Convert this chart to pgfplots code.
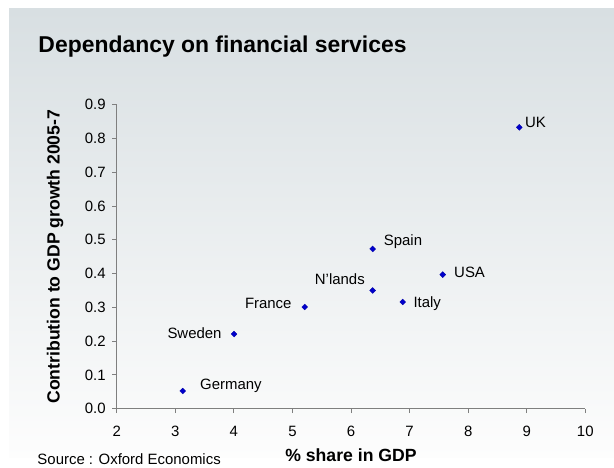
\documentclass[border=0pt]{standalone}
\usepackage{pgfplots}
\pgfplotsset{compat=1.18}
\usepackage{fontspec}
\setmainfont{Liberation Sans}
\definecolor{bgtop}{HTML}{D8DFE2}
\definecolor{bgbot}{HTML}{FDFDFD}
\definecolor{axgray}{HTML}{7F7F7F}
\definecolor{ptblue}{HTML}{0000CC}
\begin{document}
\begin{tikzpicture}[x=1bp,y=1bp]
\useasboundingbox (0,0) rectangle (614,468);
\fill[white] (0,0) rectangle (614,468);
\shade[top color=bgtop, bottom color=bgbot] (9,10) rectangle (614,459);
\node[anchor=base west, inner sep=0pt, font=\fontsize{23}{27}\selectfont\bfseries] at (38.3,415.7) {Dependancy on financial services};
\node[anchor=base west, inner sep=0pt, font=\fontsize{15}{18}\selectfont] at (37.3,3) {Source : Oxford Economics};
\begin{axis}[
  at={(116.7bp,59.3bp)}, anchor=south west,
  scale only axis, width=468.6bp, height=304bp,
  xmin=2, xmax=10, ymin=0, ymax=0.9,
  xtick={2,3,4,5,6,7,8,9,10},
  ytick={0,0.1,0.2,0.3,0.4,0.5,0.6,0.7,0.8,0.9},
  axis x line*=bottom, axis y line*=left,
  axis line style={axgray, line width=1.3bp, -},
  tick style={axgray, line width=1bp},
  tick align=outside, major tick length=4.5bp,
  /pgf/number format/assume math mode=true,
  ticklabel style={font=\fontsize{15}{18}\selectfont, text=black},
  yticklabel style={/pgf/number format/fixed, /pgf/number format/fixed zerofill, /pgf/number format/precision=1, xshift=-3bp},
  xticklabel style={yshift=-9.5bp},
  xlabel={\% share in GDP},
  ylabel={Contribution to GDP growth 2005-7},
  label style={font=\fontsize{17.7}{21}\selectfont\bfseries},
  xlabel style={at={(axis description cs:0.5,-0.1753)}, anchor=base},
  ylabel style={at={(axis description cs:-0.1216,0.5)}, anchor=base},
  clip=false,
]
\addplot[only marks, mark=square*, mark size=2.1bp, mark options={rotate=45, fill=ptblue, draw=ptblue!80!black, line width=0.3bp}]
  coordinates {
  (3.127,0.0524) (4.003,0.221) (5.210,0.301) (6.370,0.350)
  (6.370,0.473) (6.883,0.316) (7.566,0.397) (8.873,0.833)
  };
\begin{scope}[every node/.style={inner sep=0pt, font=\fontsize{15}{18}\selectfont}]
\node[anchor=base west, xshift=17.3bp, yshift=1bp] at (axis cs:3.127,0.0524) {Germany};
\node[anchor=base east, xshift=-12.3bp, yshift=-4.3bp] at (axis cs:4.003,0.221) {Sweden};
\node[anchor=base east, xshift=-13bp, yshift=-1.3bp] at (axis cs:5.210,0.301) {France};
\node[anchor=base east, xshift=-7.7bp, yshift=6.2bp] at (axis cs:6.370,0.350) {N'lands};
\node[anchor=base west, xshift=11bp, yshift=3.7bp] at (axis cs:6.370,0.473) {Spain};
\node[anchor=base west, xshift=10.6bp, yshift=-5.3bp] at (axis cs:6.883,0.316) {Italy};
\node[anchor=base west, xshift=11.3bp, yshift=-3bp] at (axis cs:7.566,0.397) {USA};
\node[anchor=base west, xshift=5.7bp, yshift=0bp] at (axis cs:8.873,0.833) {UK};
\end{scope}
\end{axis}
\end{tikzpicture}
\end{document}
